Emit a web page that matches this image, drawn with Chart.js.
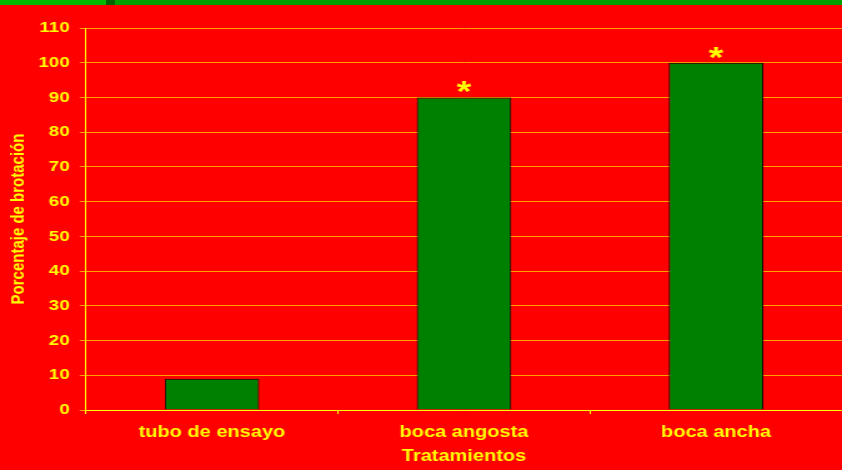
<!DOCTYPE html>
<html>
<head>
<meta charset="utf-8">
<script src="https://cdn.jsdelivr.net/npm/chart.js@4"></script>
<style>
  html, body { margin: 0; padding: 0; background: #ff0000; overflow: hidden; }
  .topbar { position: absolute; left: 0; top: 0; width: 842px; height: 5px; background: #00a000; z-index: 2; }
  .topbar .a { position: absolute; left: 0; top: 0; width: 106px; height: 5px; background: #00bb00; }
  .topbar .b { position: absolute; left: 106px; top: 0; width: 9px; height: 5px; background: #006400; }
  /* the original slide is stretched sideways, so the chart is drawn narrow and widened */
  .wrap { position: absolute; left: 0; top: 0; width: 674px; height: 470px; transform: scaleX(1.2493); transform-origin: 0 0; }
</style>
</head>
<body>
<div class="topbar"><div class="a"></div><div class="b"></div></div>
<div class="wrap"><canvas id="brotChart"></canvas></div>
<script>
const categories = ["tubo de ensayo", "boca angosta", "boca ancha"];
const brotacion = [9, 90, 100];
const marks = ["", "*", "*"];
const yTicks = [0, 10, 20, 30, 40, 50, 60, 70, 80, 90, 100, 110];

const yellow = "#ffff00";
const gridOrange = "#ffa000";

// asterisks above the significant bars
const markPlugin = {
  id: "marks",
  afterDatasetsDraw(chart) {
    const meta = chart.getDatasetMeta(0);
    const c = chart.ctx;
    c.save();
    c.fillStyle = yellow;
    c.font = "bold 30px 'Liberation Sans', Arial, sans-serif";
    c.textAlign = "center";
    c.textBaseline = "alphabetic";
    meta.data.forEach((bar, i) => {
      if (marks[i]) c.fillText(marks[i], bar.x, bar.y + 4);
    });
    c.restore();
  }
};

new Chart(document.getElementById("brotChart"), {
  type: "bar",
  data: {
    labels: categories,
    datasets: [{
      data: brotacion,
      backgroundColor: "#008000",
      borderColor: "#000000",
      borderWidth: 1,
      barPercentage: 0.375,
      categoryPercentage: 1
    }]
  },
  options: {
    responsive: true,
    maintainAspectRatio: false,
    animation: false,
    layout: { padding: { top: 28, left: 2, right: 0, bottom: 0 } },
    plugins: {
      legend: { display: false },
      tooltip: { enabled: false }
    },
    scales: {
      x: {
        grid: { display: true, drawOnChartArea: false, color: yellow, tickLength: 4, offset: true },
        border: { color: yellow, width: 1 },
        ticks: { color: yellow, padding: 9, font: { family: "'Liberation Sans', Arial", size: 16, weight: "bold" } },
        title: {
          display: true,
          text: "Tratamientos",
          color: yellow,
          font: { family: "'Liberation Sans', Arial", size: 16, weight: "bold" }
        },
        afterFit(scale) { scale.height = 60; }
      },
      y: {
        min: 0,
        max: 110,
        afterBuildTicks(scale) { scale.ticks = yTicks.map(v => ({ value: v })); },
        grid: { color: gridOrange, tickLength: 5, lineWidth: 1 },
        border: { color: yellow, width: 1 },
        ticks: { color: yellow, padding: 8, font: { family: "'Liberation Sans', Arial", size: 15, weight: "bold" } },
        title: {
          display: true,
          text: "Porcentaje de brotación",
          color: yellow,
          font: { family: "'Liberation Sans', Arial", size: 15, weight: "bold" }
        },
        afterFit(scale) { scale.width = 66.8; }
      }
    }
  },
  plugins: [markPlugin]
});
</script>
</body>
</html>
